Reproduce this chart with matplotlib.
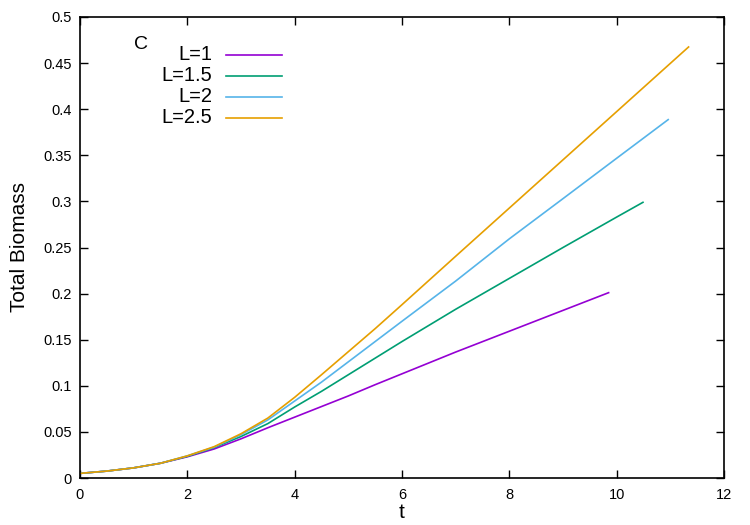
import matplotlib
matplotlib.use("Agg")
import matplotlib.pyplot as plt

plt.rcParams["font.family"] = ["Liberation Sans", "DejaVu Sans"]

# --- Daten ---
LABELS = ["L=1", "L=1.5", "L=2", "L=2.5"]
COLORS = ["#9400d3", "#009e73", "#56b4e9", "#e69f00"]

t_L1 = [0, 0.5, 1, 1.5, 2, 2.5, 3, 3.5, 4, 4.5, 5, 5.5, 6, 7, 8, 9, 9.85]
b_L1 = [0.005, 0.0075, 0.011, 0.016, 0.023, 0.0315, 0.0425, 0.0545, 0.066,
        0.0775, 0.089, 0.1012, 0.113, 0.1366, 0.1592, 0.1818, 0.201]

t_L15 = [0, 0.5, 1, 1.5, 2, 2.5, 3, 3.5, 4, 4.5, 5, 5.5, 6, 7, 8, 9, 10, 10.49]
b_L15 = [0.005, 0.0075, 0.011, 0.016, 0.0235, 0.033, 0.045, 0.059, 0.077,
         0.094, 0.112, 0.130, 0.148, 0.183, 0.2165, 0.250, 0.283, 0.299]

t_L2 = [0, 0.5, 1, 1.5, 2, 2.5, 3, 3.5, 4, 4.5, 5, 5.5, 6, 7, 8, 9, 10, 10.96]
b_L2 = [0.005, 0.0075, 0.011, 0.016, 0.024, 0.0335, 0.047, 0.063, 0.0835,
        0.104, 0.126, 0.148, 0.170, 0.2136, 0.2594, 0.303, 0.3468, 0.3887]

t_L25 = [0, 0.5, 1, 1.5, 2, 2.5, 3, 3.5, 4, 4.5, 5, 5.5, 6, 7, 8, 9, 10, 11.34]
b_L25 = [0.005, 0.0075, 0.011, 0.016, 0.024, 0.034, 0.048, 0.065, 0.0875,
         0.112, 0.137, 0.162, 0.188, 0.2405, 0.2928, 0.3451, 0.3974, 0.4675]

T_SERIES = [t_L1, t_L15, t_L2, t_L25]
B_SERIES = [b_L1, b_L15, b_L2, b_L25]

X_TICKS = [0, 2, 4, 6, 8, 10, 12]
Y_TICKS = [0, 0.05, 0.1, 0.15, 0.2, 0.25, 0.3, 0.35, 0.4, 0.45, 0.5]
Y_TICK_LABELS = ["0", "0.05", "0.1", "0.15", "0.2", "0.25", "0.3", "0.35",
                 "0.4", "0.45", "0.5"]

fig = plt.figure(figsize=(7.5, 5.25), dpi=100)
ax = fig.add_axes([80 / 750, 47 / 525, 644 / 750, 461 / 525])

for t, b, col in zip(T_SERIES, B_SERIES, COLORS):
    ax.plot(t, b, color=col, lw=1.2)

ax.set_xlim(0, 12)
ax.set_ylim(0, 0.5)
ax.set_xticks(X_TICKS)
ax.set_xticklabels([str(x) for x in X_TICKS])
ax.set_yticks(Y_TICKS)
ax.set_yticklabels(Y_TICK_LABELS)
ax.tick_params(direction="in", length=6, width=1, top=True, right=True,
               labelsize=10.5)
ax.tick_params(axis="x", pad=7)
ax.tick_params(axis="y", pad=6)
for s in ax.spines.values():
    s.set_linewidth(1.2)

ax.set_xlabel("t", fontsize=15, labelpad=1)
ax.set_ylabel("Total Biomass", fontsize=15, labelpad=10)

# Legende im gnuplot-Stil: Text rechtsbuendig, Linienmuster rechts daneben
key_y = 0.918
for lab, col in zip(LABELS, COLORS):
    ax.text(0.205, key_y, lab, transform=ax.transAxes, ha="right",
            va="center", fontsize=14.5)
    ax.plot([0.227, 0.314], [key_y, key_y], transform=ax.transAxes,
            color=col, lw=1.2)
    key_y -= 0.0455

ax.text(0.084, 0.94, "C", transform=ax.transAxes, va="center", fontsize=14)

fig.savefig("out.png", dpi=100)
